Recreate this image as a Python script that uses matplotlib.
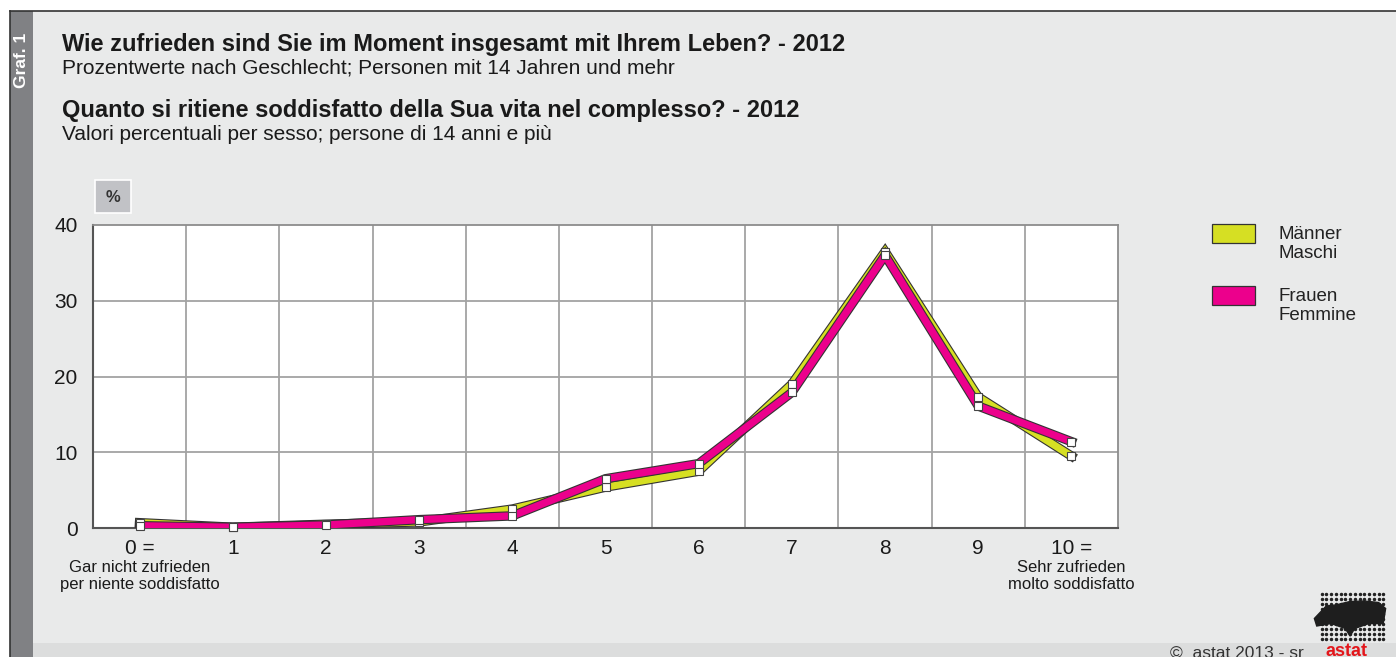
"""Life satisfaction by sex (astat 2012) - line chart recreation."""

import matplotlib

matplotlib.use("Agg")

import matplotlib.patches as mpatches
import matplotlib.patheffects as pe
import matplotlib.pyplot as plt
import numpy as np
from matplotlib.transforms import blended_transform_factory

plt.rcParams["font.family"] = ["Liberation Sans", "DejaVu Sans"]

W, H = 1396, 657

SCALE = list(range(11))
TICK_LABELS = ["0 =", "1", "2", "3", "4", "5", "6", "7", "8", "9", "10 ="]
MEN = [0.7, 0.1, 0.5, 0.8, 2.5, 5.4, 7.5, 19.0, 36.5, 17.3, 9.5]
WOMEN = [0.3, 0.1, 0.4, 1.1, 1.6, 6.5, 8.5, 17.9, 36.0, 16.1, 11.4]
SERIES_LABELS = ["Männer\nMaschi", "Frauen\nFemmine"]
COLORS = ["#D6DF23", "#EC008C"]

BG = "#E9EAEA"
GRID = "#A3A3A3"


def fx(x):
    return x / W


def fy(y):
    return 1 - y / H


def add_rect(x, y, w, h, **kw):
    # rectangle in pixel coords, top-left origin
    rect = mpatches.Rectangle((fx(x), fy(y + h)), w / W, h / H, transform=fig.transFigure, **kw)
    fig.patches.append(rect)
    return rect


fig = plt.figure(figsize=(W / 100, H / 100), dpi=100)
fig.patch.set_facecolor("white")

# background frame
add_rect(10, 11, W - 10, H - 11, facecolor=BG, edgecolor="none", zorder=-3)
add_rect(33, 643, W - 33, 14, facecolor="#DCDDDD", edgecolor="none", zorder=-2)
add_rect(10, 11, 23, H - 11, facecolor="#808184", edgecolor="none", zorder=-1)
fig.add_artist(plt.Line2D([fx(10), 1], [fy(11), fy(11)], color="#333333", lw=1.2))
fig.add_artist(plt.Line2D([fx(10), fx(10)], [0, fy(11)], color="#333333", lw=1.2))
fig.text(fx(22), fy(60), "Graf. 1", rotation=90, color="white", fontsize=12.5,
         fontweight="bold", ha="center", va="center")

# titles
fig.text(fx(62), fy(44), "Wie zufrieden sind Sie im Moment insgesamt mit Ihrem Leben? - 2012",
         fontsize=17, fontweight="bold", color="#1A1A1A", va="center")
fig.text(fx(62), fy(68), "Prozentwerte nach Geschlecht; Personen mit 14 Jahren und mehr",
         fontsize=15, color="#1A1A1A", va="center")
fig.text(fx(62), fy(111), "Quanto si ritiene soddisfatto della Sua vita nel complesso? - 2012",
         fontsize=17, fontweight="bold", color="#1A1A1A", va="center")
fig.text(fx(62), fy(134), "Valori percentuali per sesso; persone di 14 anni e più",
         fontsize=15, color="#1A1A1A", va="center")

# "%" unit box
add_rect(95, 180, 36, 33, facecolor="#C1C2C6", edgecolor="white", lw=1.2, zorder=2)
fig.text(fx(113), fy(197), "%", fontsize=12, fontweight="bold", color="#333333",
         ha="center", va="center", zorder=3)

# main axes
ax = fig.add_axes([fx(93), fy(528), 1025 / W, 303 / H])
ax.set_facecolor("white")
ax.set_xlim(-0.5, 10.5)
ax.set_ylim(0, 40)
ax.set_yticks([0, 10, 20, 30, 40])
ax.set_xticks(SCALE)
ax.set_xticklabels(TICK_LABELS)
ax.tick_params(length=0, labelsize=15, colors="#1A1A1A")
ax.tick_params(axis="y", pad=11)
ax.tick_params(axis="x", pad=8)
for y in [10, 20, 30]:
    ax.axhline(y, color=GRID, lw=1.3, zorder=1)
for x in np.arange(0.5, 10, 1):
    ax.axvline(x, color=GRID, lw=1.3, zorder=1)
for side in ["top", "right"]:
    ax.spines[side].set_color("#8C8C8C")
    ax.spines[side].set_linewidth(1.3)
for side in ["left", "bottom"]:
    ax.spines[side].set_color("#555555")
    ax.spines[side].set_linewidth(1.5)

for values, color in zip([MEN, WOMEN], COLORS):
    ax.plot(SCALE, values, color=color, lw=5.2, solid_joinstyle="miter", zorder=3,
            path_effects=[pe.Stroke(linewidth=6.8, foreground="#333333"), pe.Normal()])
for values in [MEN, WOMEN]:
    ax.plot(SCALE, values, ls="none", marker="s", ms=5.5, mfc="white", mec="#444444",
            mew=0.8, zorder=5, clip_on=False)

trans = blended_transform_factory(ax.transData, fig.transFigure)
ax.text(0, fy(576), "Gar nicht zufrieden\nper niente soddisfatto", transform=trans,
        ha="center", va="center", fontsize=12, color="#1A1A1A", linespacing=1.1)
ax.text(10, fy(576), "Sehr zufrieden\nmolto soddisfatto", transform=trans,
        ha="center", va="center", fontsize=12, color="#1A1A1A", linespacing=1.1)

# legend
for i, (label, color) in enumerate(zip(SERIES_LABELS, COLORS)):
    top = 224 + i * 62
    add_rect(1212, top, 43, 19, facecolor=color, edgecolor="#333333", lw=0.9, zorder=3)
    fig.text(fx(1278), fy(top + 20), label, fontsize=13.5, color="#222222",
             va="center", ha="left", linespacing=1.15)

# copyright and logo
fig.text(fx(1170), fy(653), "©  astat 2013 - sr", fontsize=12.5, color="#333333", va="center")
fig.text(fx(1326), fy(652), "astat", fontsize=13, fontweight="bold", color="#E3161B",
         va="center")
logo = fig.add_axes([fx(1312), fy(641), 76 / W, 50 / H])
logo.set_axis_off()
gx, gy = np.meshgrid(np.arange(14), np.arange(10))
logo.scatter(gx.ravel(), gy.ravel(), s=2.2, color="#222222")
logo.fill([-1.5, 1, 3, 6, 9, 12, 13.5, 13, 10, 7, 6, 5, 2, -1],
          [4, 6.5, 6.7, 7.4, 7.5, 7.2, 6, 3, 3, 2, 0.5, 2, 3, 2.5], color="#1E1E1E")
logo.set_xlim(-2, 14)
logo.set_ylim(-0.5, 9.5)

fig.savefig("out.png", dpi=100, facecolor=fig.get_facecolor())
